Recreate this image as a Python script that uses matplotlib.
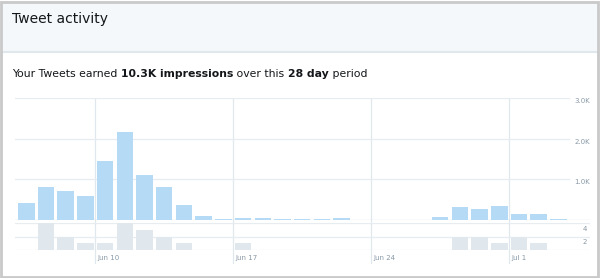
import matplotlib
matplotlib.use("Agg")
import matplotlib.pyplot as plt
from matplotlib.patches import Rectangle
from matplotlib.lines import Line2D

# ---- data ----
days = list(range(28))  # Jun 6 .. Jul 3
impressions = [410, 820, 710, 580, 1440, 2170, 1100, 810, 360, 90,
               30, 60, 60, 20, 20, 30, 60, 5, 5, 5,
               5, 80, 320, 260, 340, 150, 150, 30]
tweets = [0, 4, 2, 1, 1, 4, 3, 2, 1, 0,
          0, 1, 0, 0, 0, 0, 0, 0, 0, 0,
          0, 0, 2, 2, 1, 2, 1, 0]
date_ticks = [4, 11, 18, 25]
date_labels = ["Jun 10", "Jun 17", "Jun 24", "Jul 1"]
imp_ticks = [1000, 2000, 3000]
imp_labels = ["1.0K", "2.0K", "3.0K"]
tw_ticks = [2, 4]
tw_labels = ["2", "4"]

W, H = 600, 278
fig = plt.figure(figsize=(W / 100, H / 100), dpi=100)
fig.patch.set_facecolor("white")

def fx(px):
    return px / W

def fy(py):
    return 1 - py / H

# header background
fig.patches.append(Rectangle((fx(2), fy(52)), fx(596), 50 / H, transform=fig.transFigure,
                             facecolor="#f5f8fa", edgecolor="none", zorder=0))
fig.lines.append(Line2D([fx(2), fx(598)], [fy(52), fy(52)], transform=fig.transFigure,
                        color="#e1e8ed", lw=1.5))
# outer border
fig.patches.append(Rectangle((fx(0.8), fy(276.8)), fx(597.5), 275 / H, transform=fig.transFigure,
                             facecolor="none", edgecolor="#c9c9c9", lw=2, zorder=10))

fig.text(fx(12), fy(19), "Tweet activity", fontsize=10, color="#14171a", va="center", ha="left")
parts = [("Your Tweets earned ", "normal"), ("10.3K impressions", "bold"),
         (" over this ", "normal"), ("28 day", "bold"), (" period", "normal")]
renderer = fig.canvas.get_renderer()
x = fx(12)
for txt, wt in parts:
    t = fig.text(x, fy(74), txt, fontsize=7.8, color="#14171a", va="center", ha="left", fontweight=wt)
    bb = t.get_window_extent(renderer=renderer)
    x += bb.width / W

x0, x1 = 15, 590
xlim = (-0.57, 28.6)
grid_c = "#e6ecf0"
blue = "#b5daf5"
grey = "#e1e8ed"
lab_c = "#8899a6"

# background axes for vertical grid lines
axg = fig.add_axes([fx(x0), fy(264), fx(x1 - x0), (264 - 98) / H])
axg.set_xlim(*xlim)
axg.set_ylim(0, 1)
axg.axis("off")
for d, lab in zip(date_ticks, date_labels):
    axg.axvline(d - 0.5, color="#e1e8ed", lw=0.9)
    axg.text(d - 0.4, (264 - 258) / (264 - 98), lab, fontsize=5, color=lab_c, va="center", ha="left")

# top axes: impressions
ax = fig.add_axes([fx(x0), fy(220), fx(x1 - x0), (220 - 98) / H])
ax.patch.set_alpha(0)
ax.set_xlim(*xlim)
ax.set_ylim(0, 3000)
for v, lab in zip(imp_ticks, imp_labels):
    ax.axhline(v, xmin=0, xmax=(569 - x0) / (x1 - x0), color=grid_c, lw=0.9, zorder=0)
    ax.text(1.0, v, lab, transform=ax.get_yaxis_transform(), fontsize=5, color=lab_c,
            ha="right", va="top")
ax.axhline(0, color="#c3d3df", lw=0.9, zorder=1)
ax.bar(days, impressions, width=0.84, bottom=0, color=blue, zorder=2)
ax.axis("off")

# bottom axes: tweets
ax2 = fig.add_axes([fx(x0), fy(250), fx(x1 - x0), (250 - 223) / H])
ax2.patch.set_alpha(0)
ax2.set_xlim(*xlim)
ax2.set_ylim(0, 4)
for v, lab in zip(tw_ticks, tw_labels):
    ax2.axhline(v, color=grid_c, lw=0.9, zorder=0)
    ax2.text(0.995, v - 0.4, lab, transform=ax2.get_yaxis_transform(), fontsize=5, color=lab_c,
             ha="right", va="top")
ax2.axhline(0, color=grid_c, lw=0.9, zorder=0)
ax2.bar(days, tweets, width=0.84, color=grey, zorder=2)
ax2.axis("off")

fig.savefig("out.png", dpi=100, facecolor="white")
